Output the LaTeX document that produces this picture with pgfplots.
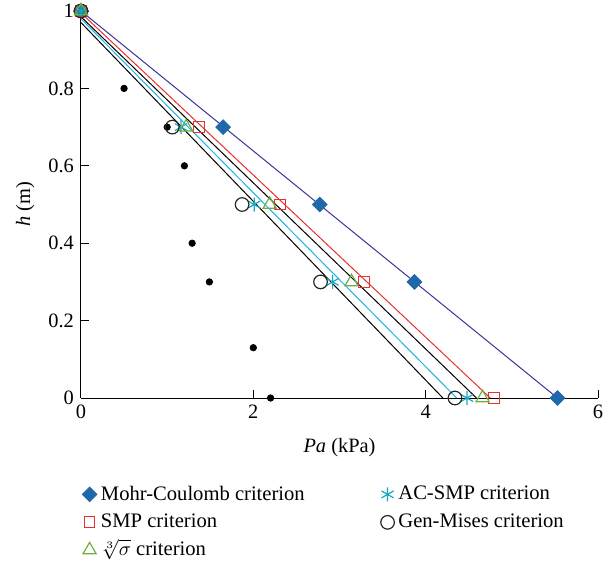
\documentclass[border=0pt]{standalone}
\usepackage{fontspec}
\setmainfont{Liberation Serif}
\usepackage{pgfplots}
\pgfplotsset{compat=1.18}

\definecolor{mcfill}{HTML}{1F68AA}
\definecolor{mcline}{HTML}{3B3498}
\definecolor{smpred}{HTML}{E8312F}
\definecolor{cubegreen}{HTML}{6CB044}
\definecolor{acsmp}{HTML}{17A9C4}
\definecolor{acline}{HTML}{1FB2E6}

\begin{document}
\begin{tikzpicture}
\begin{axis}[
    name=ax,
    scale only axis,
    width=258.5pt, height=193.5pt,
    xmin=0, xmax=6, ymin=0, ymax=1,
    axis x line=bottom, axis y line=left,
    axis line style={-, line width=0.5pt},
    tick align=inside,
    major tick length=4pt,
    tick style={black, line width=0.5pt},
    xtick={0,2,4,6},
    ytick={0,0.2,0.4,0.6,0.8,1},
    font=\fontsize{10.2}{12}\selectfont,
    /pgf/number format/assume math mode=true,
    xlabel={\textit{Pa} (kPa)},
    ylabel={\textit{h} (m)},
    xlabel style={at={(axis description cs:0.5,-0.127)}, anchor=center},
    ylabel style={at={(axis description cs:-0.108,0.5)}, anchor=center},
    clip=false,
    legend columns=2,
    legend cell align=left,
    legend style={draw=none, fill=none, at={(axis description cs:-0.01,-0.205)},
        anchor=north west, font=\fontsize{10.3}{12}\selectfont, row sep=1.5pt,
        /tikz/every even column/.append style={column sep=36pt}},
    legend image code/.code={\draw[mark repeat=2,mark phase=2,#1]
        plot coordinates {(0cm,0cm)(0.15cm,0cm)(0.4cm,0cm)};},
]
% fitted lines
\addplot[mcline, line width=0.5pt, forget plot] coordinates {(0,1) (5.53,0)};
\addplot[smpred, line width=0.5pt, forget plot] coordinates {(0,0.995) (4.75,0)};
\addplot[black, line width=0.5pt, forget plot] coordinates {(0,0.985) (4.59,0)};
\addplot[acline, line width=0.5pt, forget plot] coordinates {(0,0.98) (4.36,0)};
\addplot[black, line width=0.5pt, forget plot] coordinates {(0,0.97) (4.20,0)};

% measured points
\addplot[only marks, mark=*, mark size=1.6pt, black, forget plot] coordinates {
    (0.5,0.8) (1.0,0.7) (1.2,0.6) (1.29,0.4) (1.49,0.3) (2.0,0.13) (2.2,0)
};

% criteria
\addplot[only marks, mark=square*, mark size=2.6pt, mcfill,
    mark options={rotate=45, draw=mcfill, fill=mcfill}] coordinates {
    (0,1) (1.65,0.7) (2.77,0.5) (3.87,0.3) (5.53,0)
};
\addlegendentry{Mohr-Coulomb criterion}
\addplot[only marks, mark=asterisk, mark size=3.5pt, acsmp, line width=0.6pt] coordinates {
    (0,1) (1.16,0.7) (2.01,0.5) (2.92,0.3) (4.48,0)
};
\addlegendentry{AC-SMP criterion}
\addplot[only marks, mark=square, mark size=2.7pt, smpred, line width=0.5pt] coordinates {
    (0,1) (1.37,0.7) (2.31,0.5) (3.28,0.3) (4.79,0)
};
\addlegendentry{SMP criterion}
\addplot[only marks, mark=o, mark size=3.4pt, black!85, line width=0.6pt] coordinates {
    (0,1) (1.06,0.7) (1.87,0.5) (2.78,0.3) (4.34,0)
};
\addlegendentry{Gen-Mises criterion}
\addplot[only marks, mark=triangle, mark size=3.8pt, cubegreen, line width=0.6pt] coordinates {
    (0,1) (1.22,0.7) (2.19,0.5) (3.14,0.3) (4.66,0)
};
\addlegendentry{\smash{$\sqrt[3]{\sigma}$} criterion}
\end{axis}
\pgfresetboundingbox
\useasboundingbox ([shift={(-40.5pt,-82.5pt)}]ax.south west) rectangle ([shift={(8pt,5.5pt)}]ax.north east);
\end{tikzpicture}
\end{document}
